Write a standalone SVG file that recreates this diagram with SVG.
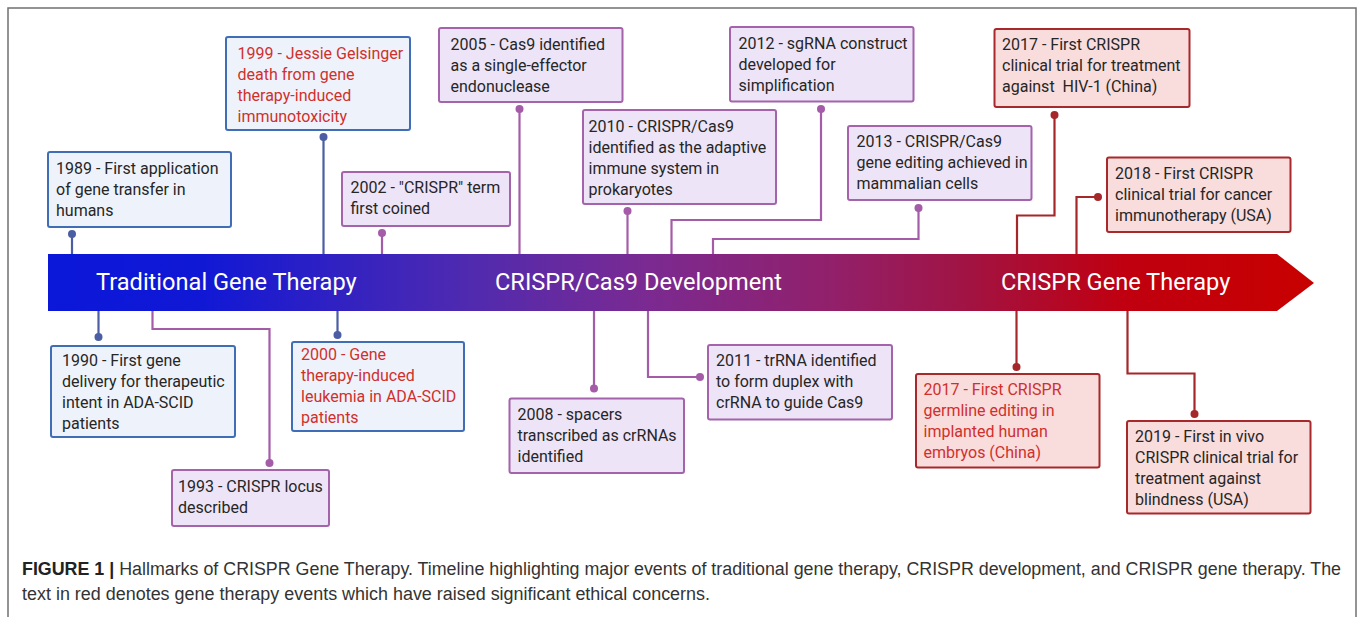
<svg xmlns="http://www.w3.org/2000/svg" width="1357" height="617" viewBox="0 0 1357 617">
<style>
  .bt { font-family: Roboto, "Liberation Sans", sans-serif; font-size: 16px; fill: #262626; }
  .red { fill: #d0302c; }
  .bl { fill: #eef3fb; stroke: #3f6db6; stroke-width: 2; }
  .pu { fill: #ede4f7; stroke: #a463ab; stroke-width: 2; }
  .rd { fill: #f9dcdc; stroke: #a8292b; stroke-width: 2; }
  .cb { fill: none; stroke: #4b5ea4; stroke-width: 2.2; }
  .cp { fill: none; stroke: #a45ca9; stroke-width: 2.2; }
  .cr { fill: none; stroke: #a5272a; stroke-width: 2.2; }
  .db { fill: #4b5ea4; }
  .dp { fill: #a45ca9; }
  .dr { fill: #a5272a; }
  .bar { font-family: Roboto, "Liberation Sans", sans-serif; font-size: 23.6px; fill: #ffffff; }
  .cap { font-family: "Liberation Sans", Arial, sans-serif; font-size: 18px; fill: #333333; }
</style>
<defs>
  <linearGradient id="g" gradientUnits="userSpaceOnUse" x1="48" y1="0" x2="1314" y2="0">
    <stop offset="0" stop-color="#0b17d9"/>
    <stop offset="0.12" stop-color="#1018d5"/>
    <stop offset="0.33" stop-color="#4f2ab0"/>
    <stop offset="0.47" stop-color="#7a2a92"/>
    <stop offset="0.62" stop-color="#92206a"/>
    <stop offset="0.72" stop-color="#a01445"/>
    <stop offset="0.85" stop-color="#c00010"/>
    <stop offset="1" stop-color="#c80000"/>
  </linearGradient>
</defs>
<rect x="0" y="0" width="1357" height="617" fill="#ffffff"/>
<rect x="8" y="8" width="1348" height="640" fill="none" stroke="#707070" stroke-width="1.5"/>

<g id="timeline">
  <polygon points="48,254 1277,254 1314,283 1277,311 48,311" fill="url(#g)"/>
  <text class="bar" x="96" y="290">Traditional Gene Therapy</text>
  <text class="bar" x="495" y="290">CRISPR/Cas9 Development</text>
  <text class="bar" x="1001" y="290">CRISPR Gene Therapy</text>
</g>

<g id="connectors">
  <path class="cb" d="M72,234 V254"/><circle class="db" cx="72" cy="234" r="4"/>
  <path class="cb" d="M323.5,137 V254"/><circle class="db" cx="323.5" cy="137" r="4"/>
  <path class="cp" d="M382,233 V254"/><circle class="dp" cx="382" cy="233" r="4"/>
  <path class="cp" d="M519.5,109 V254"/><circle class="dp" cx="519.5" cy="109" r="4"/>
  <path class="cp" d="M627.5,211 V254"/><circle class="dp" cx="627.5" cy="211" r="4"/>
  <path class="cp" d="M821,109 V220 H671.5 V254"/><circle class="dp" cx="821" cy="109" r="4"/>
  <path class="cp" d="M918.5,208 V239 H713 V254"/><circle class="dp" cx="918.5" cy="208" r="4"/>
  <path class="cr" d="M1054.5,115 V215.5 H1017 V254"/><circle class="dr" cx="1054.5" cy="115" r="4"/>
  <path class="cr" d="M1098,197 H1076.5 V254"/><circle class="dr" cx="1098" cy="197" r="4"/>

  <path class="cb" d="M98.5,311 V337"/><circle class="db" cx="98.5" cy="337" r="4"/>
  <path class="cp" d="M152.5,311 V329 H269.5 V463"/><circle class="dp" cx="269.5" cy="463" r="4"/>
  <path class="cb" d="M337.5,311 V335"/><circle class="db" cx="337.5" cy="335" r="4"/>
  <path class="cp" d="M594,311 V388.5"/><circle class="dp" cx="594" cy="388.5" r="4"/>
  <path class="cp" d="M648,311 V377 H700"/><circle class="dp" cx="700" cy="377" r="4"/>
  <path class="cr" d="M1016.5,311 V367"/><circle class="dr" cx="1016.5" cy="367" r="4"/>
  <path class="cr" d="M1127.5,311 V373.5 H1194.5 V414"/><circle class="dr" cx="1194.5" cy="414" r="4"/>
</g>

<g id="n1989">
  <rect class="bl" x="48" y="152" width="183" height="75" rx="2"/>
  <text class="bt" x="56" y="174">1989 - First application</text>
  <text class="bt" x="56" y="195">of gene transfer in</text>
  <text class="bt" x="56" y="216">humans</text>
</g>
<g id="n1999">
  <rect class="bl" x="226" y="37" width="184" height="93" rx="2"/>
  <text class="bt red" x="237.5" y="59">1999 - Jessie Gelsinger</text>
  <text class="bt red" x="237.5" y="80">death from gene</text>
  <text class="bt red" x="237.5" y="101">therapy-induced</text>
  <text class="bt red" x="237.5" y="122">immunotoxicity</text>
</g>
<g id="n2002">
  <rect class="pu" x="342" y="172" width="168" height="54" rx="2"/>
  <text class="bt" x="350.5" y="193">2002 - "CRISPR" term</text>
  <text class="bt" x="350.5" y="214">first coined</text>
</g>
<g id="n2005">
  <rect class="pu" x="439" y="28" width="183.5" height="74" rx="2"/>
  <text class="bt" x="450.5" y="50">2005 - Cas9 identified</text>
  <text class="bt" x="450.5" y="71">as a single-effector</text>
  <text class="bt" x="450.5" y="92">endonuclease</text>
</g>
<g id="n2010">
  <rect class="pu" x="583" y="110" width="193" height="94" rx="2"/>
  <text class="bt" x="588.5" y="132">2010 - CRISPR/Cas9</text>
  <text class="bt" x="588.5" y="153">identified as the adaptive</text>
  <text class="bt" x="588.5" y="174">immune system in</text>
  <text class="bt" x="588.5" y="195">prokaryotes</text>
</g>
<g id="n2012">
  <rect class="pu" x="730" y="27" width="183.5" height="74.5" rx="2"/>
  <text class="bt" x="738.5" y="49">2012 - sgRNA construct</text>
  <text class="bt" x="738.5" y="70">developed for</text>
  <text class="bt" x="738.5" y="91">simplification</text>
</g>
<g id="n2013">
  <rect class="pu" x="848" y="126" width="183.5" height="74" rx="2"/>
  <text class="bt" x="856.5" y="147">2013 - CRISPR/Cas9</text>
  <text class="bt" x="856.5" y="168">gene editing achieved in</text>
  <text class="bt" x="856.5" y="189">mammalian cells</text>
</g>
<g id="n2017hiv">
  <rect class="rd" x="994.5" y="29" width="195" height="78" rx="2"/>
  <text class="bt" x="1002" y="50">2017 - First CRISPR</text>
  <text class="bt" x="1002" y="71">clinical trial for treatment</text>
  <text class="bt" x="1002" y="92" xml:space="preserve">against  HIV-1 (China)</text>
</g>
<g id="n2018">
  <rect class="rd" x="1107" y="157.5" width="183.5" height="74.5" rx="2"/>
  <text class="bt" x="1115" y="178.5">2018 - First CRISPR</text>
  <text class="bt" x="1115" y="199.5">clinical trial for cancer</text>
  <text class="bt" x="1115" y="220.5">immunotherapy (USA)</text>
</g>

<g id="n1990">
  <rect class="bl" x="51" y="346" width="184" height="91" rx="2"/>
  <text class="bt" x="62" y="366">1990 - First gene</text>
  <text class="bt" x="62" y="387">delivery for therapeutic</text>
  <text class="bt" x="62" y="408">intent in ADA-SCID</text>
  <text class="bt" x="62" y="429">patients</text>
</g>
<g id="n1993">
  <rect class="pu" x="172" y="470" width="157" height="56" rx="2"/>
  <text class="bt" x="178" y="492">1993 - CRISPR locus</text>
  <text class="bt" x="178" y="513">described</text>
</g>
<g id="n2000">
  <rect class="bl" x="292" y="342" width="172" height="89" rx="2"/>
  <text class="bt red" x="301" y="359.5">2000 - Gene</text>
  <text class="bt red" x="301" y="380.5">therapy-induced</text>
  <text class="bt red" x="301" y="401.5">leukemia in ADA-SCID</text>
  <text class="bt red" x="301" y="422.5">patients</text>
</g>
<g id="n2008">
  <rect class="pu" x="509.5" y="398.5" width="174.5" height="74.5" rx="2"/>
  <text class="bt" x="517.5" y="420">2008 - spacers</text>
  <text class="bt" x="517.5" y="441">transcribed as crRNAs</text>
  <text class="bt" x="517.5" y="462">identified</text>
</g>
<g id="n2011">
  <rect class="pu" x="708" y="345" width="184" height="74.5" rx="2"/>
  <text class="bt" x="716" y="365.5">2011 - trRNA identified</text>
  <text class="bt" x="716" y="386.5">to form duplex with</text>
  <text class="bt" x="716" y="407.5">crRNA to guide Cas9</text>
</g>
<g id="n2017germ">
  <rect class="rd" x="916" y="374" width="183.5" height="93.5" rx="2"/>
  <text class="bt red" x="923.5" y="395">2017 - First CRISPR</text>
  <text class="bt red" x="923.5" y="416">germline editing in</text>
  <text class="bt red" x="923.5" y="437">implanted human</text>
  <text class="bt red" x="923.5" y="458">embryos (China)</text>
</g>
<g id="n2019">
  <rect class="rd" x="1127" y="421" width="183.5" height="92.5" rx="2"/>
  <text class="bt" x="1135" y="442">2019 - First in vivo</text>
  <text class="bt" x="1135" y="463">CRISPR clinical trial for</text>
  <text class="bt" x="1135" y="484">treatment against</text>
  <text class="bt" x="1135" y="505">blindness (USA)</text>
</g>

<g id="caption">
  <text class="cap" x="22" y="575" textLength="1319" lengthAdjust="spacingAndGlyphs"><tspan font-weight="bold" fill="#222">FIGURE 1 |</tspan> Hallmarks of CRISPR Gene Therapy. Timeline highlighting major events of traditional gene therapy, CRISPR development, and CRISPR gene therapy. The</text>
  <text class="cap" x="22" y="600" textLength="688" lengthAdjust="spacingAndGlyphs">text in red denotes gene therapy events which have raised significant ethical concerns.</text>
</g>
</svg>
